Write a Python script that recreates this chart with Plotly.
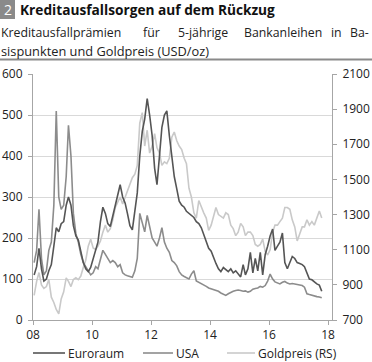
import plotly.graph_objects as go

# ---- data (monthly, Jan 2008 - Oct 2017) ----
months = [f"{y}-{m:02d}-15" for y in range(2008, 2018) for m in range(1, 13)][:118]

euroraum = [
    110, 130, 175, 125, 95, 100, 120, 135, 180, 225, 215, 235,
    240, 280, 300, 280, 230, 205, 195, 165, 140, 125, 118, 128,
    150, 175, 190, 240, 275, 260, 235, 228, 255, 280, 310, 330,
    300, 285, 260, 230, 220, 270, 310, 400, 460, 490, 540, 500,
    450, 370, 330, 400, 470, 500, 510, 450, 400, 350, 320, 290,
    280, 275, 265, 260, 255, 250, 240, 235, 225, 210, 190, 175,
    168, 150, 138, 125, 118, 128, 122, 118, 125, 115, 120, 112,
    105, 135, 110, 125, 165, 115, 150, 120, 165, 110, 160, 180,
    205, 222, 170, 180, 190, 212, 140, 125, 140, 155, 150, 140,
    138, 135, 130, 115, 100, 98, 92, 88, 85, 70,
]
usa = [
    140, 170, 270, 150, 110, 120, 170, 190, 280, 510, 300, 270,
    280, 350, 475, 400, 260, 210, 190, 160, 140, 130, 120, 110,
    115, 130, 125, 145, 170, 160, 150, 140, 145, 140, 130, 135,
    115, 110, 108, 106, 104, 120, 150, 260, 240, 215, 255, 230,
    200, 190, 180, 200, 225, 190, 175, 165, 145, 140, 132, 118,
    110, 106, 104, 100, 112, 120, 95, 92, 88, 85, 82, 78,
    76, 74, 73, 70, 66, 62, 60, 64, 68, 70, 72, 73,
    72, 70, 71, 68, 70, 75, 77, 78, 82, 80, 84, 95,
    112, 100, 93, 90, 88, 92, 94, 90, 88, 89, 88, 86,
    85, 84, 80, 64, 62, 60, 58, 57, 56, 54,
]
goldpreis = [
    840, 920, 970, 900, 880, 890, 930, 830, 800, 760, 735, 820,
    860, 940, 920, 890, 930, 940, 930, 950, 1000, 1040, 1120, 1160,
    1110, 1100, 1120, 1150, 1200, 1240, 1200, 1220, 1270, 1340, 1370, 1400,
    1360, 1400, 1430, 1480, 1510, 1530, 1580, 1820, 1880, 1690, 1780, 1650,
    1690, 1760, 1680, 1650, 1580, 1600, 1590, 1620, 1740, 1770, 1720, 1690,
    1670, 1620, 1590, 1450, 1400, 1310, 1280, 1380, 1340, 1310, 1280, 1210,
    1240, 1300, 1340, 1300, 1290, 1280, 1310, 1300, 1240, 1220, 1180, 1200,
    1250, 1230, 1180, 1200, 1200, 1180, 1130, 1120, 1130, 1160, 1090, 1070,
    1100, 1200, 1240, 1240, 1260, 1280, 1340, 1340, 1330, 1270, 1230, 1150,
    1190, 1230, 1230, 1270, 1240, 1260, 1240, 1280, 1320, 1280,
]

x_tickvals = ["2008-01-01", "2010-01-01", "2012-01-01", "2014-01-01", "2016-01-01", "2018-01-01"]
x_ticktext = ["08", "10", "12", "14", "16", "18"]
left_ticks = [0, 100, 200, 300, 400, 500, 600]
right_ticks = [700, 900, 1100, 1300, 1500, 1700, 1900, 2100]

title = "Kreditausfallsorgen auf dem Rückzug"
sub_words = ["Kreditausfallprämien", "für", "5-jährige", "Bankanleihen", "in", "Ba-"]
sub_line2 = "sispunkten und Goldpreis (USD/oz)"
legend_names = ["Euroraum", "USA", "Goldpreis (RS)"]

C_EU = "#555555"
C_US = "#8c8c8c"
C_GOLD = "#c9c9c9"
FONT = "Open Sans"
W, H = 372, 362
ML, MR, MT, MB = 33, 40, 74, 42

fig = go.Figure()
fig.add_trace(go.Scatter(x=months, y=goldpreis, name=legend_names[2], yaxis="y",
                         mode="lines", line=dict(color=C_GOLD, width=1.6)))
fig.add_trace(go.Scatter(x=months, y=usa, name=legend_names[1], yaxis="y2",
                         mode="lines", line=dict(color=C_US, width=1.6)))
fig.add_trace(go.Scatter(x=months, y=euroraum, name=legend_names[0], yaxis="y2",
                         mode="lines", line=dict(color=C_EU, width=1.6)))

axis_col = "#a6a6a6"
fig.update_layout(
    width=W, height=H,
    margin=dict(l=ML, r=MR, t=MT, b=MB, autoexpand=False),
    paper_bgcolor="white", plot_bgcolor="white",
    font=dict(family=FONT, size=12, color="#222222"),
    xaxis=dict(type="date", range=["2008-01-01", "2018-02-19"],
               tickvals=x_tickvals, ticktext=x_ticktext,
               showline=True, linecolor=axis_col, linewidth=1,
               ticks="outside", ticklen=4, tickcolor=axis_col,
               showgrid=False, zeroline=False, tickfont=dict(size=12)),
    yaxis=dict(side="right", range=[700, 2100], tickvals=right_ticks,
               showline=True, linecolor=axis_col, linewidth=1,
               ticks="outside", ticklen=4, tickcolor=axis_col,
               ticklabelstandoff=3,
               showgrid=False, zeroline=False, tickfont=dict(size=12)),
    yaxis2=dict(side="left", overlaying="y", range=[0, 600], tickvals=left_ticks,
                showline=True, linecolor=axis_col, linewidth=1,
                ticks="outside", ticklen=4, tickcolor=axis_col,
                ticklabelstandoff=3,
                showgrid=True, gridcolor="#d9d9d9", gridwidth=1,
                zeroline=False, tickfont=dict(size=12)),
    showlegend=False,
)

pw = W - ML - MR
ph = H - MT - MB


def px(xpix):
    return (xpix - ML) / pw


def py(ypix):
    return 1 - (ypix - MT) / ph


shapes = [
    dict(type="rect", x0=px(0), x1=px(15), y0=py(19), y1=py(0),
         fillcolor="#8a8a8a", line=dict(width=0)),
    dict(type="line", x0=px(0), x1=px(W), y0=py(59.5), y1=py(59.5),
         line=dict(color="#8a8a8a", width=2)),
]
# legend samples
leg_lines = [(33, 65), (143, 173), (227, 255)]
leg_cols = [C_EU, C_US, C_GOLD]
for (a, b), c in zip(leg_lines, leg_cols):
    shapes.append(dict(type="line", x0=px(a), x1=px(b), y0=py(353), y1=py(353),
                       line=dict(color=c, width=1.6)))
for s in shapes:
    s.update(xref="paper", yref="paper")

ann = [
    dict(text="2", x=px(7.5), y=py(9.5), xanchor="center", yanchor="middle",
         font=dict(size=14, color="white", family=FONT)),
    dict(text="<b>" + title + "</b>", x=px(19), y=py(10), xanchor="left", yanchor="middle",
         font=dict(size=13.7, color="#111111", family=FONT)),
    dict(text=sub_line2, x=px(0), y=py(51), xanchor="left", yanchor="middle",
         font=dict(size=12.8, color="#222222", family=FONT)),
]
word_x = [0, 142, 177, 243, 330, 349]
for wd, wx in zip(sub_words, word_x):
    ann.append(dict(text=wd, x=px(wx), y=py(33), xanchor="left", yanchor="middle",
                    font=dict(size=12.3, color="#222222", family=FONT)))
leg_text_x = [67, 175, 257]
for nm, tx in zip(legend_names, leg_text_x):
    ann.append(dict(text=nm, x=px(tx), y=py(353), xanchor="left", yanchor="middle",
                    font=dict(size=12, color="#222222", family=FONT)))
for a in ann:
    a.update(xref="paper", yref="paper", showarrow=False, borderpad=0)

fig.update_layout(shapes=shapes, annotations=ann)
fig.write_html("out.html", config={"displayModeBar": False},
               post_script="document.body.style.margin='0';document.body.style.overflow='hidden';")
